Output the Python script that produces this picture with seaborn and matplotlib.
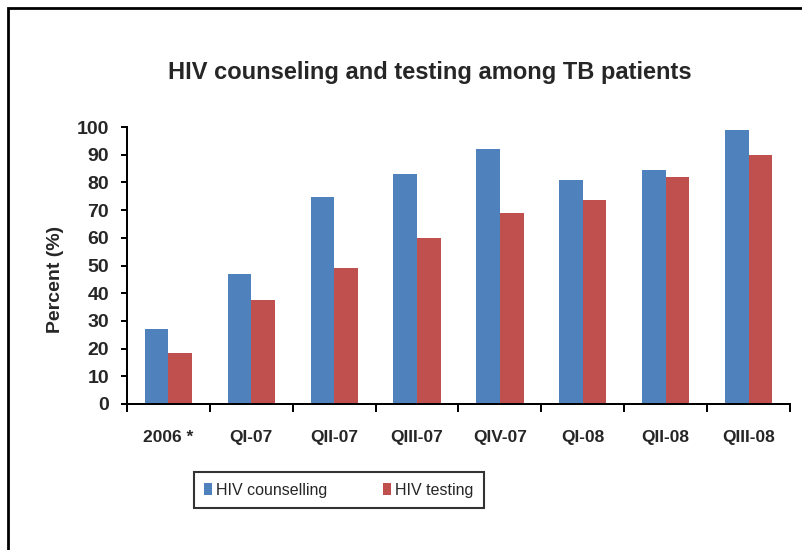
import matplotlib
matplotlib.use("Agg")
import matplotlib.pyplot as plt
import seaborn as sns
import pandas as pd
import numpy as np
from matplotlib.patches import Rectangle, Patch

categories = ["2006 *", "QI-07", "QII-07", "QIII-07", "QIV-07", "QI-08", "QII-08", "QIII-08"]
counselling = [27, 47, 74.6, 83, 92, 81, 84.5, 99]
testing = [18.3, 37.4, 49.1, 60.1, 68.8, 73.6, 82, 90]
series_names = ["HIV counselling", "HIV testing"]
colors = ["#4F81BD", "#C0504D"]
yticks = [0, 10, 20, 30, 40, 50, 60, 70, 80, 90, 100]

sns.set_style("white")
plt.rcParams['font.family'] = ['Liberation Sans', 'DejaVu Sans']

df = pd.DataFrame({
    "cat": categories * 2,
    "val": counselling + testing,
    "series": [series_names[0]] * len(categories) + [series_names[1]] * len(categories),
})

fig = plt.figure(figsize=(8.03, 5.5), dpi=100)
ax = fig.add_axes([127 / 803, 1 - 404 / 550, (790 - 127) / 803, (404 - 127) / 550])

sns.barplot(data=df, x="cat", y="val", hue="series", order=categories,
            hue_order=series_names, palette=colors, width=0.57, ax=ax,
            saturation=1, edgecolor="none", linewidth=0, legend=False)

ax.set_xlim(-0.5, len(categories) - 0.5)
ax.set_ylim(0, 100)
ax.set_yticks(yticks)
ax.set_yticklabels([str(v) for v in yticks], fontsize=14, fontweight="bold")
ax.set_xticks(range(len(categories)))
ax.set_xticklabels(categories, fontsize=12.5, fontweight="bold")
ax.set_xticks(np.arange(-0.5, len(categories), 1.0), minor=True)
ax.tick_params(axis="x", which="major", bottom=True, length=0, pad=19)
ax.tick_params(axis="x", which="minor", bottom=True, length=5.8, width=1.44,
               direction="out", color="black")
ax.tick_params(axis="y", which="major", left=True, length=4.5, width=1.44,
               direction="out", color="black", pad=8.5)
ax.set_xlabel("")
ax.set_ylabel("Percent (%)", fontsize=14, fontweight="bold")
ax.yaxis.set_label_coords(-0.095, 0.448)

for s in ["top", "right"]:
    ax.spines[s].set_visible(False)
for s in ["left", "bottom"]:
    ax.spines[s].set_linewidth(1.44)
    ax.spines[s].set_color("black")

fig.text(430 / 803, 1 - 73 / 550, "HIV counseling and testing among TB patients",
         ha="center", va="center", fontsize=17, fontweight="bold")

handles = [Patch(facecolor=c, edgecolor="none") for c in colors]
leg = fig.legend(handles, series_names, loc="center",
                 bbox_to_anchor=(339 / 803, 1 - 490 / 550), ncol=2,
                 fontsize=11.5, frameon=True, fancybox=False, shadow=False,
                 handlelength=0.5, handleheight=0.75, handletextpad=0.25,
                 columnspacing=3.5, borderpad=0.65, borderaxespad=0)
leg.get_frame().set_edgecolor("black")
leg.get_frame().set_linewidth(1.5)

fig.patches.append(Rectangle((8 / 803, -0.1), 1.2, 1 - 8 / 550 + 0.1,
                             transform=fig.transFigure, fill=False,
                             edgecolor="black", linewidth=2))

fig.savefig("out.png", dpi=100)
